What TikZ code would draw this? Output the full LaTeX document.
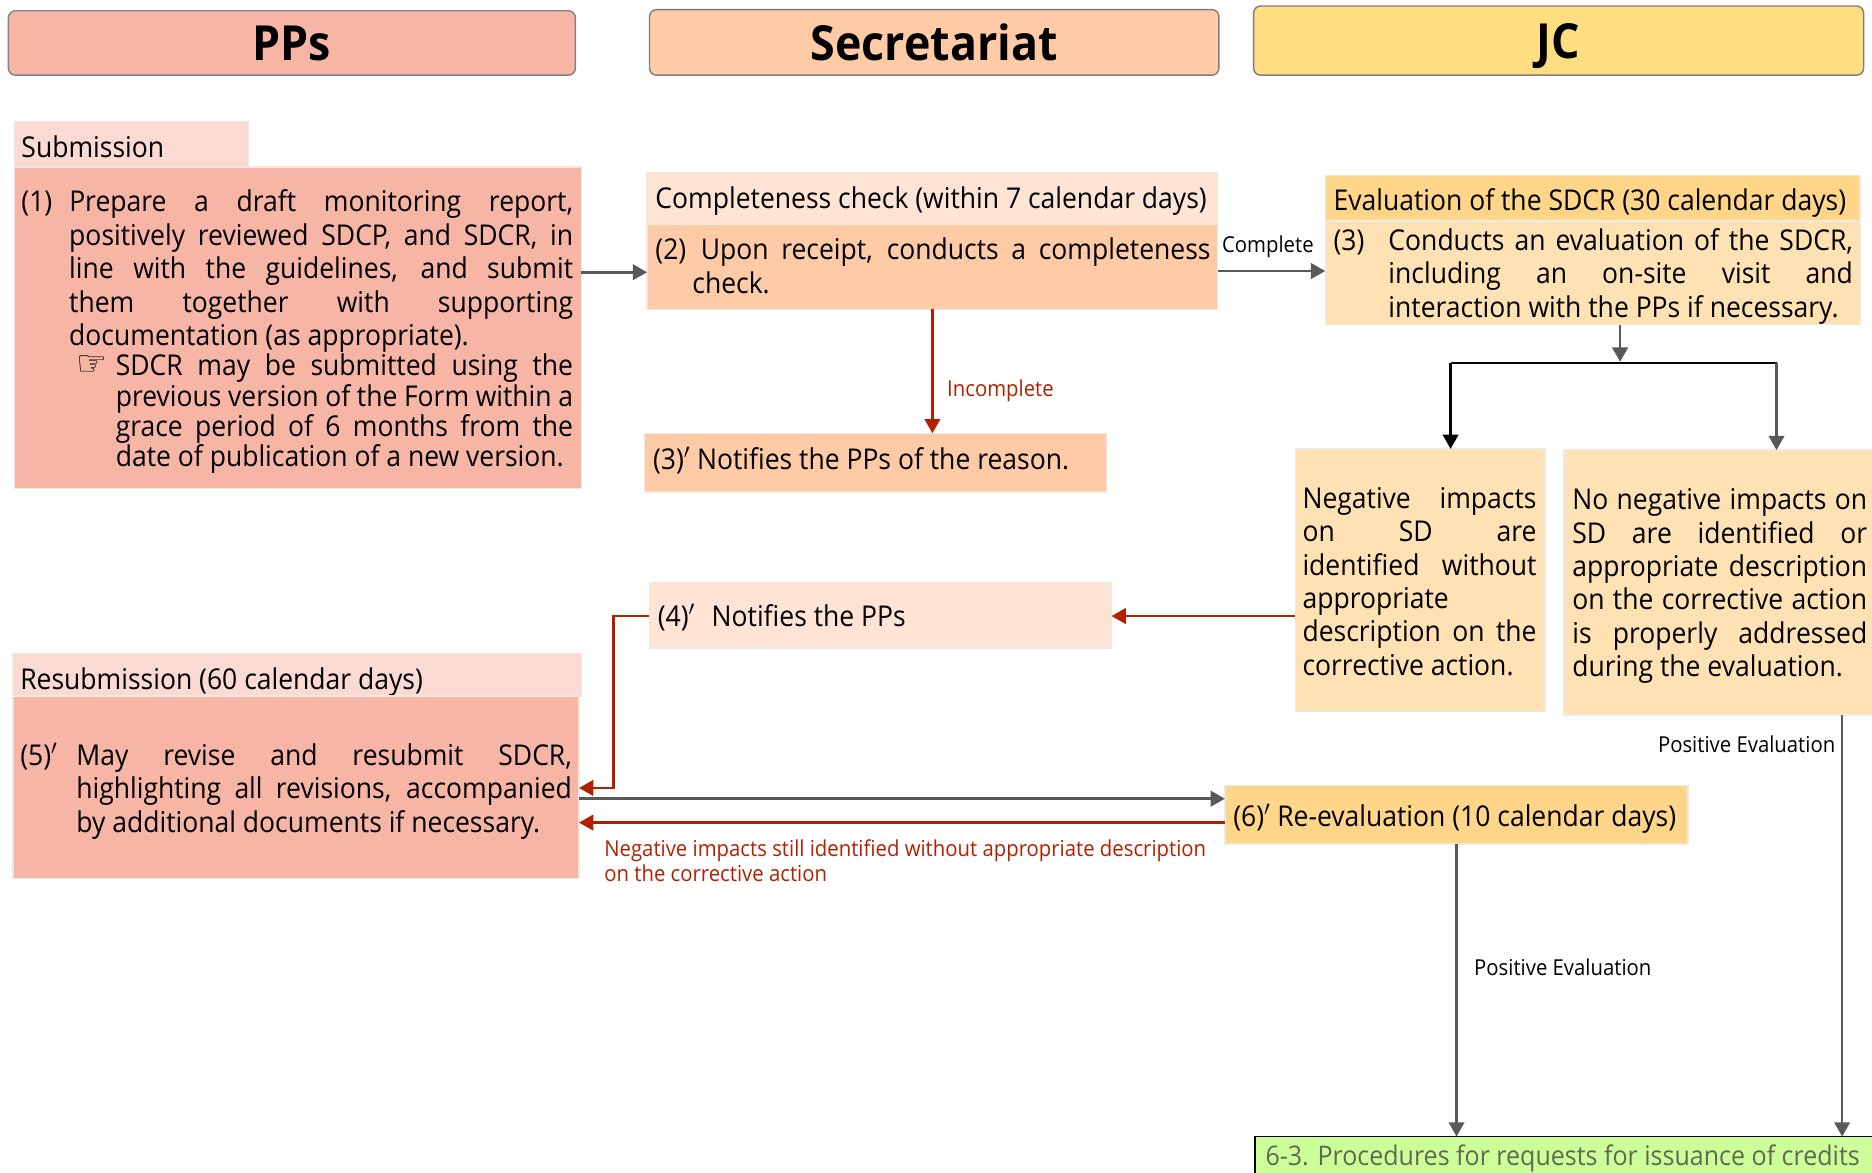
\documentclass[tikz,border=0pt]{standalone}
\usepackage{fontspec}
\setmainfont[FakeStretch=0.925]{Open Sans}
\usetikzlibrary{arrows.meta}
\definecolor{hpp}{HTML}{F7B5A6}
\definecolor{hsec}{HTML}{FFCBA6}
\definecolor{hjc}{HTML}{FFDE82}
\definecolor{lpp}{HTML}{FADAD2}
\definecolor{bpp}{HTML}{F7B5A6}
\definecolor{lsec}{HTML}{FEE4D5}
\definecolor{bsec}{HTML}{FFCBA6}
\definecolor{ljc}{HTML}{FFD58A}
\definecolor{bjc}{HTML}{FFE2B3}
\definecolor{edgec}{HTML}{EEE9DE}
\definecolor{redc}{HTML}{B22000}
\definecolor{grayc}{HTML}{595959}
\definecolor{grn}{HTML}{CCFF99}
\definecolor{grntxt}{HTML}{5F6B4F}
\tikzset{
  box/.style={draw=edgec,line width=1.2pt,inner sep=0pt,outer sep=0pt},
  headbox/.style={draw=gray,line width=1.2pt,rounded corners=6pt,inner sep=0pt,outer sep=0pt,text height=30pt,text depth=0pt,font=\bfseries\fontsize{40.5}{44}\selectfont},
  garrow/.style={draw=grayc,line width=2.2pt,-{Triangle[length=12pt,width=13pt]}},
  karrow/.style={draw=black,line width=2.2pt,-{Triangle[length=12pt,width=13pt]}},
  rarrow/.style={draw=redc,line width=2.2pt,-{Triangle[length=12pt,width=13pt]}},
  lab/.style={inner sep=0pt,font=\fontsize{18.4}{21}\selectfont},
  rlab/.style={lab,text=redc,align=left},
}
% style, name, x1,y1,x2,y2, left pad, right pad, text
\newcommand\bx[9]{%
  \pgfmathsetlengthmacro{\bxw}{(#5-#3)*1pt}%
  \pgfmathsetlengthmacro{\bxt}{(#5-#3-#7-#8)*1pt}%
  \node[box,fill=#1,minimum width=\bxw,minimum height={(#6-#4)*1pt}] (#2) at ({(#3+#5)/2},{(#4+#6)/2})
    {\hbox to \bxw{\hskip#7pt\parbox{\bxt}{\fontsize{24}{28}\selectfont\parindent=0pt\tolerance=10000\hbadness=10000\hyphenpenalty=10000\exhyphenpenalty=10000 #9}\hss}};}
\newcommand\lbl[1]{\makebox[#1][l]}
\begin{document}
\begin{tikzpicture}[x=1pt,y=-1pt]
\useasboundingbox (0,0) rectangle (1568,982);
% headers
\node[headbox,fill=hpp,minimum width=475pt,minimum height=54pt] (hp) at (244.5,36) {PPs};
\node[headbox,fill=hsec,minimum width=477pt,minimum height=55pt] (hs) at (782.5,35.5) {Secretariat};
\node[headbox,fill=hjc,minimum width=511pt,minimum height=58pt] (hj) at (1305.5,34) {JC};
% PPs
\bx{lpp}{subh}{12}{102}{208}{140}{6}{4}{\vspace*{4pt}Submission}
\bx{bpp}{subb}{12}{140}{487}{409}{6}{7}{\vspace*{7pt}\hangindent=40pt\lbl{40pt}{(1)}Prepare a draft monitoring report,\linebreak positively reviewed SDCP, and SDCR, in\linebreak line with the guidelines, and submit\linebreak them together with supporting\linebreak documentation (as appropriate).\par
 \fontsize{24}{25.4}\selectfont\hangindent=79pt\hspace*{46pt}\lbl{33pt}{\smash{\fontspec{DejaVu Sans}\fontsize{29}{25}\selectfont ☞}}SDCR may be submitted using the\linebreak previous version of the Form within a\linebreak grace period of 6 months from the\linebreak date of publication of a new version.\par}
\bx{lpp}{resh}{11}{548}{487}{583}{6}{4}{\vspace*{12pt}Resubmission (60 calendar days)}
\bx{bpp}{resb}{11}{583}{485}{736}{6}{6}{\vspace*{6pt}\hangindent=47pt\lbl{47pt}{(5)$'$}May revise and resubmit SDCR,\linebreak highlighting all revisions, accompanied\linebreak by additional documents if necessary.\par}
% Secretariat
\bx{lsec}{comh}{542}{145}{1020}{188}{7}{4}{\vspace*{4pt}Completeness check (within 7 calendar days)}
\bx{bsec}{comb}{542}{188}{1020}{259}{7}{6}{\hangindent=31pt\lbl{38pt}{(2)}Upon receipt, conducts a completeness\linebreak check.\par\vspace*{2pt}}
\bx{bsec}{noti}{540}{363}{927}{412}{7}{4}{(3)$'$ Notifies the PPs of the reason.\par\vspace*{4pt}}
\bx{lsec}{four}{544}{488}{931}{543}{7}{4}{\vspace*{4pt}(4)$'$\hspace{14pt}Notifies the PPs}
% JC
\bx{ljc}{evah}{1110}{147}{1558}{185}{7}{4}{\vspace*{8pt}Evaluation of the SDCR (30 calendar days)}
\bx{bjc}{evab}{1110}{185}{1558}{272}{7}{6}{\vspace*{6pt}\hangindent=46pt\lbl{46pt}{(3)}Conducts an evaluation of the SDCR,\linebreak including an on-site visit and\linebreak interaction with the PPs if necessary.\par}
\bx{bjc}{nega}{1085}{376}{1294}{596}{6}{7}{\vspace*{2pt}Negative impacts\linebreak on SD are\linebreak identified without\linebreak appropriate\par description on the\linebreak corrective action.\par}
\bx{bjc}{none}{1310}{377}{1572}{599}{7}{8}{\vspace*{6pt}No negative impacts on\linebreak SD are identified or\linebreak appropriate description\linebreak on the corrective action\linebreak is properly addressed\linebreak during the evaluation.\par}
\bx{ljc}{reev}{1026}{658}{1414}{707}{7}{4}{\vspace*{6pt}(6)$'$ Re-evaluation (10 calendar days)}
% next section
\node[draw=black,line width=1.5pt,fill=grn,inner sep=0pt,outer sep=0pt,minimum width=530pt,minimum height=32pt,text=grntxt,font=\fontsize{22.65}{28}\selectfont] (next) at (1316,968) {\hbox to 530pt{\hskip9pt\raisebox{-8pt}[0pt][0pt]{6-3. Procedures for requests for issuance of credits}\hss}};
% junction
\coordinate (jl) at (1215,304);
\coordinate (jr) at (1488,304);
% connectors
\draw[garrow] (subb.east |- 0,228) -- (comb.west |- 0,228);
\draw[garrow] (comb.east |- 0,227) -- (evab.west |- 0,227);
\draw[rarrow] (comb.south -| 781,0) -- (noti.north -| 781,0);
\draw[garrow] (evab.south -| 1357,0) -- (1357,303);
\draw[black,line width=1.3pt] (jl) -- (jr);
\draw[karrow] (jl) -- (nega.north -| jl);
\draw[garrow] (jr) -- (none.north -| jr);
\draw[rarrow] (nega.west |- 0,516) -- (four.east |- 0,516);
\draw[rarrow] (four.west |- 0,516) -- (514,516) -- (514,660) -- (resb.east |- 0,660);
\draw[garrow] (resb.east |- 0,669) -- (reev.west |- 0,669);
\draw[rarrow] (reev.west |- 0,689) -- (resb.east |- 0,689);
\draw[garrow] (reev.south -| 1220,0) -- (next.north -| 1220,0);
\draw[garrow] (none.south -| 1543,0) -- (next.north -| 1543,0);
% labels
\node[lab] (lcomp) at (1062,207) {Complete};
\node[rlab] (linc) at (838,327.5) {Incomplete};
\node[rlab,anchor=west] (lneg) at (506,721) {Negative impacts still identified without appropriate description\\on the corrective action};
\node[lab] (lpos1) at (1309,810.5) {Positive Evaluation};
\node[lab] (lpos2) at (1463,623) {Positive Evaluation};
\end{tikzpicture}
\end{document}
